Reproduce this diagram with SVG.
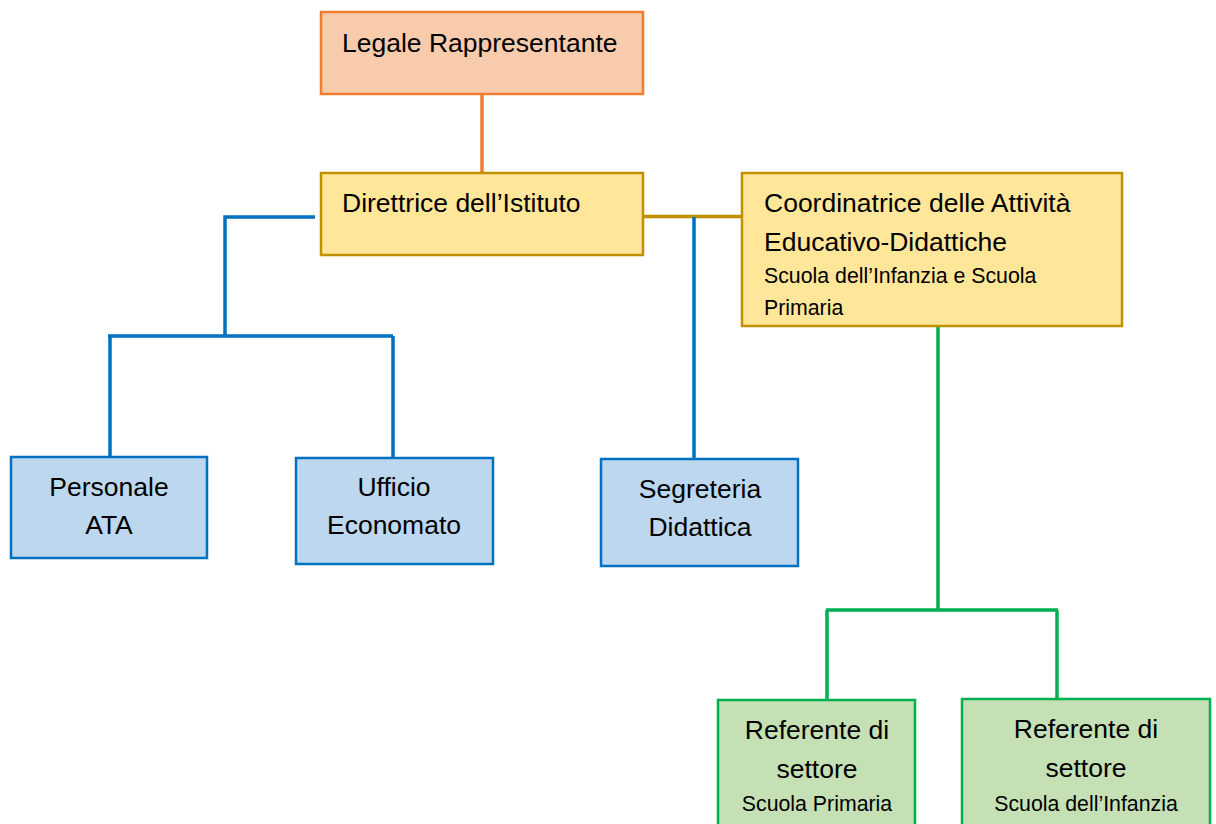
<svg xmlns="http://www.w3.org/2000/svg" width="1216" height="824" viewBox="0 0 1216 824">
<style>
text{font-family:"Liberation Sans",Arial,sans-serif;fill:#000;font-size:26.5px}
.s{font-size:21.3px}
.c{text-anchor:middle}
.orange{fill:#F8CBAD;stroke:#ED7D31;stroke-width:2.5}
.gold{fill:#FFE699;stroke:#BF9000;stroke-width:2.5}
.blue{fill:#BDD7EE;stroke:#0070C0;stroke-width:2.5}
.green{fill:#C5E0B4;stroke:#00B050;stroke-width:2.5}
.ln{fill:none;stroke-width:3.5}
</style>
<rect width="1216" height="824" fill="#fff"/>
<g id="connectors">
<path class="ln" stroke="#ED7D31" d="M482,94 V173"/>
<path class="ln" stroke="#BF9000" d="M643,216.5 H742"/>
<path class="ln" stroke="#0070C0" d="M694,217 V459"/>
<path class="ln" stroke="#0070C0" d="M315,217 H225 V336 M108,336 H393 M110,336 V457 M393,336 V457"/>
<path class="ln" stroke="#00B050" d="M938,326 V610 M826,610 H1058 M827,610 V700 M1057,610 V699"/>
</g>
<g id="legale">
<rect class="orange" x="321" y="12" width="322" height="82"/>
<text x="342" y="52">Legale Rappresentante</text>
</g>
<g id="direttrice">
<rect class="gold" x="321" y="173" width="322" height="82"/>
<text x="342" y="212">Direttrice dell’Istituto</text>
</g>
<g id="coordinatrice">
<rect class="gold" x="742" y="173" width="380" height="153"/>
<text x="764" y="212">Coordinatrice delle Attività</text>
<text x="764" y="251">Educativo-Didattiche</text>
<text class="s" x="764" y="283">Scuola dell’Infanzia e Scuola</text>
<text class="s" x="764" y="315">Primaria</text>
</g>
<g id="personale">
<rect class="blue" x="11" y="457" width="196" height="101"/>
<text class="c" x="109" y="496">Personale</text>
<text class="c" x="109" y="534">ATA</text>
</g>
<g id="ufficio">
<rect class="blue" x="296" y="458" width="197" height="106"/>
<text class="c" x="394" y="496">Ufficio</text>
<text class="c" x="394" y="534">Economato</text>
</g>
<g id="segreteria">
<rect class="blue" x="601" y="459" width="197" height="107"/>
<text class="c" x="700" y="498">Segreteria</text>
<text class="c" x="700" y="536">Didattica</text>
</g>
<g id="ref-primaria">
<rect class="green" x="718" y="700" width="197" height="130"/>
<text class="c" x="817" y="739">Referente di</text>
<text class="c" x="817" y="778">settore</text>
<text class="s c" x="817" y="811">Scuola Primaria</text>
</g>
<g id="ref-infanzia">
<rect class="green" x="962" y="699" width="248" height="131"/>
<text class="c" x="1086" y="738">Referente di</text>
<text class="c" x="1086" y="777">settore</text>
<text class="s c" x="1086" y="811">Scuola dell’Infanzia</text>
</g>
</svg>
